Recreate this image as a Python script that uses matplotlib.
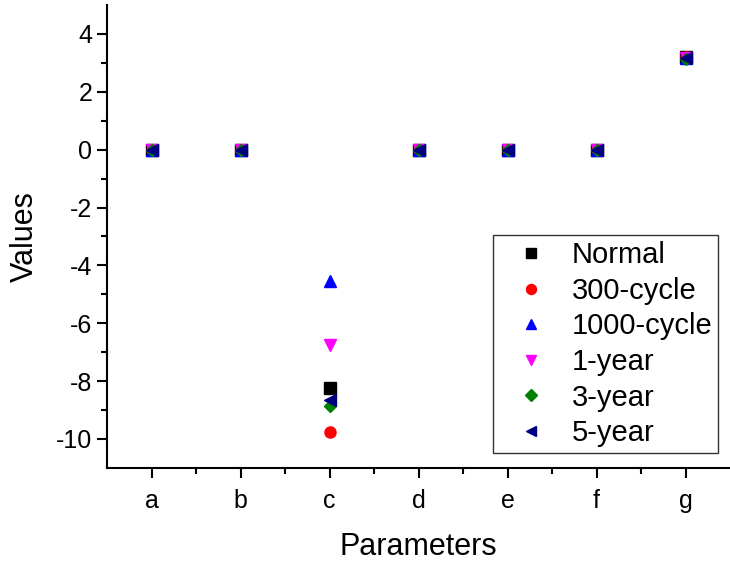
import numpy as np
import matplotlib.pyplot as plt

plt.rcParams['font.family'] = ['Liberation Sans', 'DejaVu Sans']
plt.rcParams['axes.unicode_minus'] = False

### DATA ###
params = ["a", "b", "c", "d", "e", "f", "g"]
normal = [0, 0, -8.25, 0, 0, 0, 3.2]
cycle300 = [0, 0, -9.75, 0, 0, 0, 3.22]
cycle1000 = [0, 0, -4.55, 0, 0, 0, 3.18]
year1 = [0, 0, -6.75, 0, 0, 0, 3.17]
year3 = [0, 0, -8.85, 0, 0, 0, 3.15]
year5 = [0, 0, -8.65, 0, 0, 0, 3.17]

series = [
    ("Normal", normal, "s", "black"),
    ("300-cycle", cycle300, "o", "red"),
    ("1000-cycle", cycle1000, "^", "blue"),
    ("1-year", year1, "v", "magenta"),
    ("3-year", year3, "D", "green"),
    ("5-year", year5, "<", "navy"),
]

### PLOT ###
fig = plt.figure(figsize=(7.3, 5.63), dpi=100)
ax = fig.add_axes([0.1466, 0.169, 0.8534, 0.822])

x = np.arange(1, len(params) + 1)
for name, vals, mk, col in series:
    ms = 6.5 if mk == "D" else 8
    ax.plot(x, vals, linestyle="none", marker=mk, color=col, markersize=ms, label=name)

ax.set_xlim(0.5, 7.5)
ax.set_ylim(-11, 5)
ax.set_xticks(x)
ax.set_xticklabels(params)
ax.set_xticks(np.arange(1.5, 7.5, 1), minor=True)
ax.set_yticks(np.arange(-10, 5, 2))
ax.set_yticks(np.arange(-9, 5, 2), minor=True)

ax.spines["top"].set_visible(False)
ax.spines["right"].set_visible(False)
ax.spines["left"].set_linewidth(1.5)
ax.spines["bottom"].set_linewidth(1.5)
ax.tick_params(which="major", direction="out", length=7, width=1.5, labelsize=18)
ax.tick_params(which="minor", direction="out", length=4, width=1.5)
ax.tick_params(axis="x", pad=8)

ax.set_xlabel("Parameters", fontsize=22, labelpad=14)
ax.set_ylabel("Values", fontsize=22, labelpad=12)

leg = ax.legend(loc="lower right", bbox_to_anchor=(0.981, 0.032), borderaxespad=0,
                fontsize=21, frameon=True, fancybox=False, edgecolor="black",
                handletextpad=0.25, handlelength=2.25, borderpad=0.2,
                labelspacing=0.26, markerscale=0.9)
leg.get_frame().set_linewidth(1.0)

fig.savefig("out.png", dpi=100)
